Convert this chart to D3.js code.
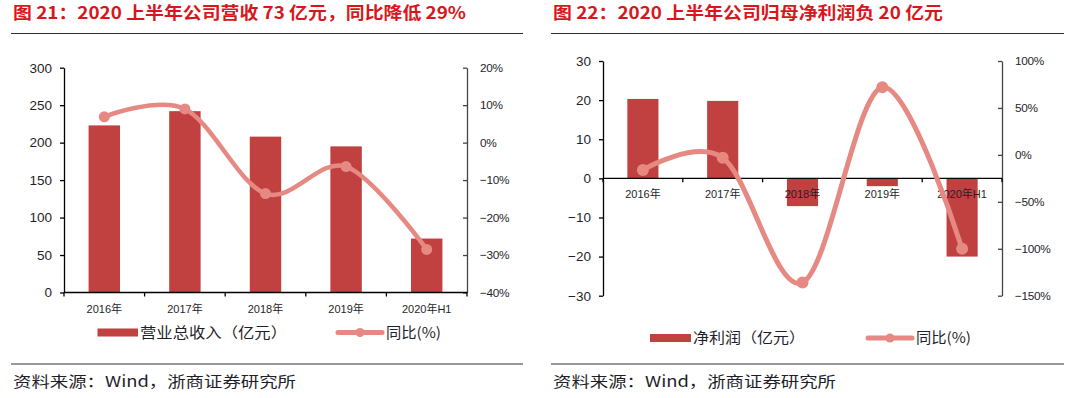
<!DOCTYPE html>
<html><head><meta charset="utf-8">
<script src="https://cdn.jsdelivr.net/npm/d3@7/dist/d3.min.js"></script>
<style>
html,body{margin:0;padding:0;background:#fff;}
svg{display:block;}
</style></head>
<body>
<svg id="c" width="1080" height="398"></svg>
<script>
// ---- data ----
const categories = ["2016年", "2017年", "2018年", "2019年", "2020年H1"];
const revenue = [223, 242, 208, 195, 72];
const revenueYoY = [6.9, 9.0, -13.6, -6.4, -28.5];
const profit = [20.3, 19.8, -7.1, -2.0, -20.0];
const profitYoY = [-16, -3, -136, 72, -100];
const revLeftTicks = [0, 50, 100, 150, 200, 250, 300];
const revRightTicks = [-40, -30, -20, -10, 0, 10, 20];
const profLeftTicks = [-30, -20, -10, 0, 10, 20, 30];
const profRightTicks = [-150, -100, -50, 0, 50, 100];
const titles = ["图 21：2020 上半年公司营收 73 亿元，同比降低 29%", "图 22：2020 上半年公司归母净利润负 20 亿元"];
const barLegend = ["营业总收入（亿元）", "净利润（亿元）"];
const lineLegend = "同比(%)";
const sourceText = "资料来源：Wind，浙商证券研究所";

const BAR = "#C0413F", LINE = "#E58982", RED = "#D9161C", TXT = "#1f1f2a";
const NUMF = "'Liberation Sans', Arial, 'Noto Sans CJK SC', sans-serif";
const CJKF = "'Noto Sans CJK SC', 'Liberation Sans', sans-serif";
const fmtMinus = d => (d < 0 ? "\u2212" + Math.abs(d) : "" + d);

const svg = d3.select("#c");

function panel(o) {
  const g = svg.append("g");
  // title
  g.append("text").attr("x", o.titleX).attr("y", 19).attr("fill", RED)
    .attr("font-family", CJKF).attr("font-weight", "bold").attr("font-size", 17)
    .attr("textLength", o.titleLen).attr("lengthAdjust", "spacingAndGlyphs").text(o.title);
  g.append("line").attr("x1", o.rule[0]).attr("x2", o.rule[1]).attr("y1", 33.5).attr("y2", 33.5)
    .attr("stroke", "#333").attr("stroke-width", 1.2);
  g.append("line").attr("x1", o.rule[0]).attr("x2", o.rule[1]).attr("y1", 364).attr("y2", 364)
    .attr("stroke", "#333").attr("stroke-width", 1.2);
  g.append("text").attr("x", o.rule[0] + 2).attr("y", 387).attr("fill", TXT)
    .attr("font-family", CJKF).attr("font-size", 15)
    .attr("textLength", 283).attr("lengthAdjust", "spacingAndGlyphs").text(sourceText);

  const x = d3.scaleBand().domain(categories).range([o.xL, o.xR]).paddingInner(0.61).paddingOuter(0.305);
  const y = d3.scaleLinear().domain(o.yDom).range([o.yBot, o.yTop]);
  const y2 = d3.scaleLinear().domain(o.y2Dom).range([o.yBot, o.yTop]);
  const bx = d3.scaleLinear().domain([0, categories.length]).range([o.xL, o.xR]);

  // bars
  g.append("g").selectAll("rect").data(o.bars).join("rect")
    .attr("x", (d, i) => x(categories[i]))
    .attr("width", x.bandwidth())
    .attr("y", d => y(Math.max(0, d)))
    .attr("height", d => Math.abs(y(d) - y(0)))
    .attr("fill", BAR);

  // left axis
  const la = g.append("g").attr("transform", `translate(${o.xL},0)`)
    .call(d3.axisLeft(y).tickValues(o.lTicks).tickFormat(fmtMinus).tickSize(4).tickSizeOuter(0).tickPadding(8));
  la.select(".domain").attr("stroke", "#000").attr("stroke-width", 1.3);
  la.selectAll(".tick line").attr("stroke", "#000").attr("stroke-width", 1.3);
  la.selectAll("text").attr("font-family", NUMF).attr("font-size", 13.5).attr("fill", TXT);

  // right axis
  const ra = g.append("g").attr("transform", `translate(${o.xR},0)`)
    .call(d3.axisRight(y2).tickValues(o.rTicks).tickFormat(d => fmtMinus(d) + "%").tickSize(-4).tickSizeOuter(0).tickPadding(13));
  ra.select(".domain").attr("stroke", "#444").attr("stroke-width", 1.3);
  ra.selectAll(".tick line").attr("stroke", "#444").attr("stroke-width", 1.3);
  ra.selectAll("text").attr("font-family", NUMF).attr("font-size", 11.8).attr("fill", TXT).attr("letter-spacing", "-0.3");

  // category axis at zero
  const y0 = y(0);
  g.append("line").attr("x1", o.xL).attr("x2", o.xR).attr("y1", y0).attr("y2", y0)
    .attr("stroke", "#000").attr("stroke-width", 1.3);
  g.append("g").selectAll("line").data(d3.range(categories.length + 1)).join("line")
    .attr("x1", i => bx(i)).attr("x2", i => bx(i)).attr("y1", y0).attr("y2", y0 + 4)
    .attr("stroke", "#000").attr("stroke-width", 1.3);
  g.append("g").selectAll("text").data(categories).join("text")
    .attr("x", d => x(d) + x.bandwidth() / 2).attr("y", y0 + o.labDy)
    .attr("text-anchor", "middle").attr("font-family", NUMF).attr("font-size", 11).attr("fill", TXT)
    .text(d => d);

  // line
  const pts = o.line.map((v, i) => [x(categories[i]) + x.bandwidth() / 2, y2(v)]);
  g.append("path").attr("d", d3.line().curve(d3.curveCardinal.tension(0))(pts))
    .attr("fill", "none").attr("stroke", LINE).attr("stroke-width", o.lw).attr("stroke-linecap", "round");
  g.append("g").selectAll("circle").data(pts).join("circle")
    .attr("cx", d => d[0]).attr("cy", d => d[1]).attr("r", o.r).attr("fill", LINE);

  // legend
  const ly = o.legY;
  g.append("rect").attr("x", o.legBar[0]).attr("y", ly - 4).attr("width", o.legBar[1] - o.legBar[0]).attr("height", 8).attr("fill", BAR);
  g.append("text").attr("x", o.legBar[1] + 2).attr("y", ly + 5).attr("font-family", CJKF).attr("font-size", 14.5).attr("fill", TXT)
    .attr("textLength", o.legTextLen).attr("lengthAdjust", "spacingAndGlyphs").text(o.legText);
  g.append("line").attr("x1", o.legLine[0]).attr("x2", o.legLine[1]).attr("y1", ly).attr("y2", ly)
    .attr("stroke", LINE).attr("stroke-width", 5).attr("stroke-linecap", "round");
  g.append("circle").attr("cx", (o.legLine[0] + o.legLine[1]) / 2).attr("cy", ly).attr("r", 4.5).attr("fill", LINE);
  g.append("text").attr("x", o.legLine[1] + 4).attr("y", ly + 5).attr("font-family", CJKF).attr("font-size", 14.5).attr("fill", TXT)
    .attr("textLength", 55).attr("lengthAdjust", "spacingAndGlyphs").text(lineLegend);
}

panel({
  title: titles[0], titleX: 13, titleLen: 453, rule: [11, 523],
  xL: 64, xR: 467, yTop: 67.7, yBot: 292.5,
  yDom: [0, 300], y2Dom: [-40, 20], lTicks: revLeftTicks, rTicks: revRightTicks,
  bars: revenue, line: revenueYoY, labDy: 20, lw: 4.5, r: 5.5,
  legY: 332.5, legBar: [97.5, 138], legText: barLegend[0], legTextLen: 147, legLine: [338, 382]
});
panel({
  title: titles[1], titleX: 553, titleLen: 390, rule: [551, 1064],
  xL: 603, xR: 1002, yTop: 61, yBot: 295.7,
  yDom: [-30, 30], y2Dom: [-150, 100], lTicks: profLeftTicks, rTicks: profRightTicks,
  bars: profit, line: profitYoY, labDy: 20, lw: 5, r: 6,
  legY: 338, legBar: [650, 691], legText: barLegend[1], legTextLen: 112, legLine: [868, 912]
});
</script>
</body></html>
